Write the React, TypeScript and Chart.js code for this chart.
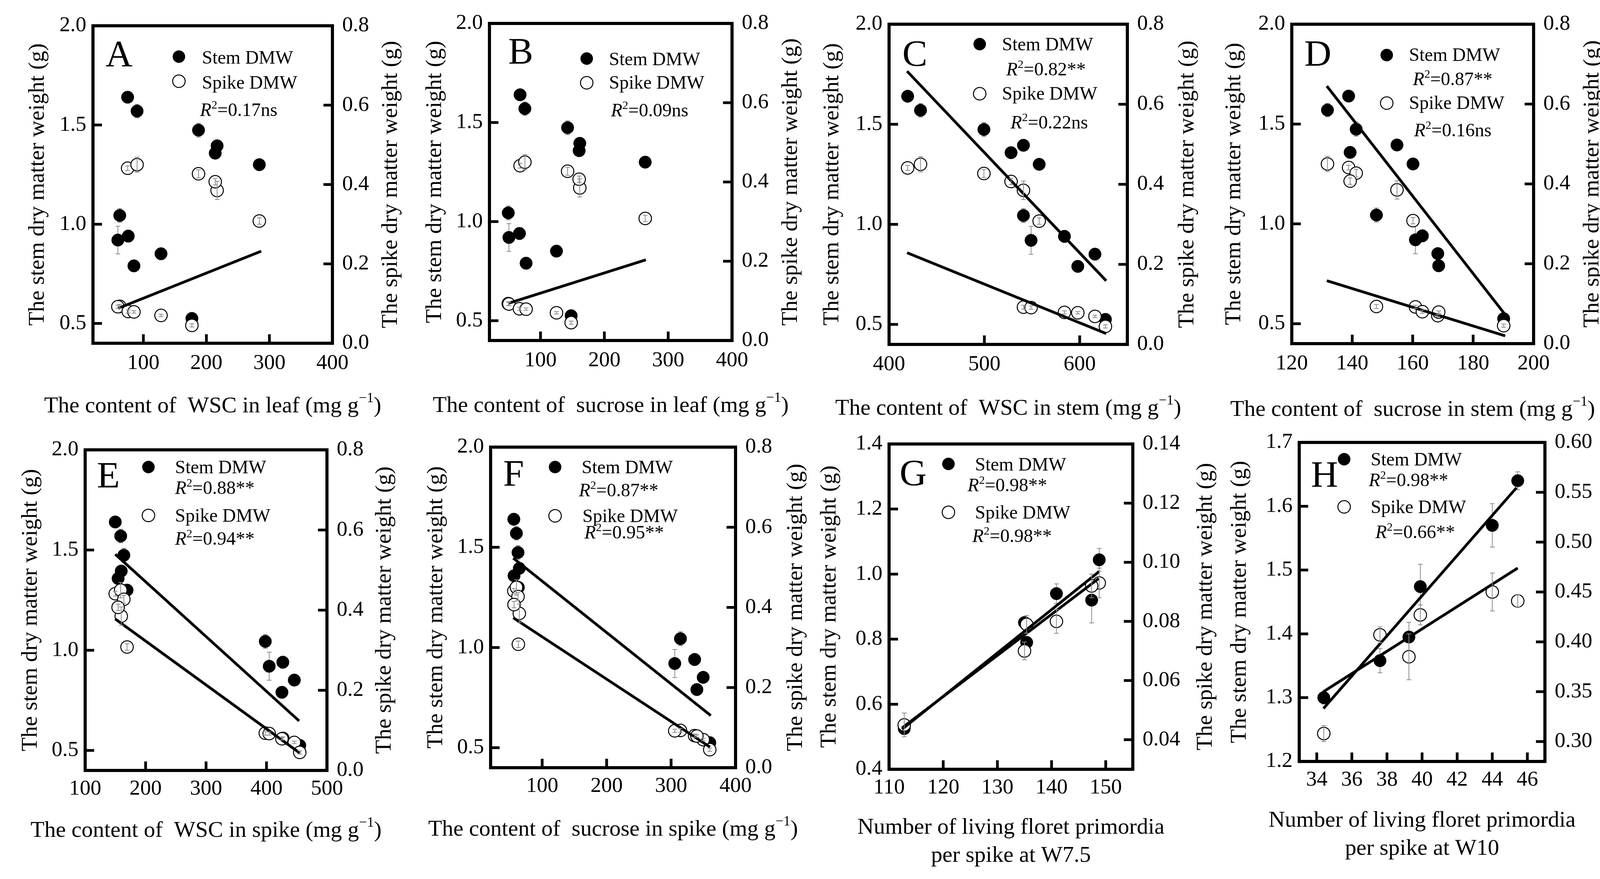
import { useEffect, useRef } from "react"
import { Chart, registerables } from "chart.js"

Chart.register(...registerables)

const SERIF = '"Liberation Serif", "Times New Roman", serif'
Chart.defaults.font.family = SERIF
Chart.defaults.color = "#000"

// twelve treatments: the same plants are plotted in every panel
const stemDmw = [1.64, 1.57, 1.474, 1.395, 1.358, 1.3, 1.044, 0.92, 0.94, 0.851, 0.79, 0.525]
const stemSe = [0.014, 0.034, 0.035, 0.023, 0.019, 0.01, 0.035, 0.07, 0.03, 0.01, 0.01, 0.01]
const spikeDmw = [0.441, 0.45, 0.427, 0.385, 0.407, 0.308, 0.093, 0.092, 0.08, 0.07, 0.079, 0.045]
const spikeSe = [0.006, 0.019, 0.01, 0.023, 0.008, 0.008, 0.005, 0.004, 0.004, 0.003, 0.003, 0.004]

// x value of each treatment, one array per panel (null = not in that panel)
const wscLeaf = [75, 90, 187.5, 217, 214, 284, 62.5, 59.5, 76, 128, 85, 177]
const sucroseLeaf = [68, 75.5, 142.4, 161.5, 160.5, 264, 49.5, 50.5, 67, 125, 77.4, 148]
const wscStem = [419.5, 433, 499.5, 541, 528, 557.5, 541, 549, 584, 616, 598, 627]
const sucroseStem = [138.8, 131.8, 141.3, 154.8, 139.3, 160.1, 148, 160.9, 163.2, 168.3, 168.6, 190.1]
const wscSpike = [149.8, 158.8, 164, 159.7, 154.5, 169.3, 398, 404.5, 427, 446, 425.5, 455]
const sucroseSpike = [56, 60, 62.5, 64.5, 56.3, 63, 314.5, 305.7, 336.5, 349.8, 340, 360]
const floretsW75 = [null, null, null, null, null, null, 148.8, 147.4, 140.9, 135, 135.4, 112.8]
const floretsW10 = [45.45, 44, 39.9, 39.25, 37.6, 34.4, null, null, null, null, null, null]

// fitted regression lines (end points)
const fitAX = [60, 287]
const fitASpike = [0.088, 0.232]
const fitBX = [49.8, 265]
const fitBSpike = [0.094, 0.2035]
const fitCX = [418.9, 627.8]
const fitCStem = [1.765, 0.718]
const fitCSpike = [0.229, 0.027]
const fitDStemX = [131.6, 191.6]
const fitDStem = [1.69, 0.526]
const fitDSpikeX = [131.6, 190.6]
const fitDSpike = [0.1575, 0.0195]
const fitEStemX = [149.8, 454]
const fitEStem = [1.479, 0.647]
const fitESpikeX = [149.8, 455.5]
const fitESpike = [0.378, 0.043]
const fitFStemX = [55.1, 361.6]
const fitFStem = [1.446, 0.66]
const fitFSpikeX = [55.1, 360.4]
const fitFSpike = [0.374, 0.0515]
const fitGStemX = [112.4, 148.8]
const fitGStem = [0.523, 1.008]
const fitGSpikeX = [112.4, 148.7]
const fitGSpike = [0.044, 0.0945]
const fitHStemX = [34.38, 45.38]
const fitHStem = [1.283, 1.629]
const fitHSpikeX = [34.38, 45.45]
const fitHSpike = [0.35, 0.474]

// tick values
const leafTicks = [100, 200, 300, 400]
const stemWscTicks = [400, 500, 600]
const stemSucTicks = [120, 140, 160, 180, 200]
const spikeWscTicks = [100, 200, 300, 400, 500]
const w75Ticks = [110, 120, 130, 140, 150]
const w10Ticks = [34, 36, 38, 40, 42, 44, 46]
const stemYTicks = [0.5, 1.0, 1.5, 2.0]
const spikeYTicks = [0, 0.2, 0.4, 0.6, 0.8]
const stemYTicksG = [0.4, 0.6, 0.8, 1.0, 1.2, 1.4]
const spikeYTicksG = [0.04, 0.06, 0.08, 0.1, 0.12, 0.14]
const stemYTicksH = [1.2, 1.3, 1.4, 1.5, 1.6, 1.7]
const spikeYTicksH = [0.3, 0.35, 0.4, 0.45, 0.5, 0.55, 0.6]

const yTitle = "The stem dry matter weight (g)"
const y2Title = "The spike dry matter weight (g)"

type Row = { kind: "stem" | "spike" | "r2"; text: string; dx: number; dy: number }
type Fit = { xs: number[]; ys: number[]; axis: "y" | "y2" }
interface Panel {
  letter: string
  cell: number[]
  plot: number[]
  xs: (number | null)[]
  xRange: number[]
  xTicks: number[]
  yRange: number[]
  yTicks: number[]
  y2Range: number[]
  y2Ticks: number[]
  y2Dec: number
  xTitle: string[]
  sup: boolean
  fits: Fit[]
  letterPos: number[]
  markers: number[]
  rows: Row[]
  titleOff: number[]
}

const legendRows = (s: number[], r1: number[], p: number[], r2: number[], t1: string, t2: string): Row[] => [
  { kind: "stem", text: "Stem DMW", dx: s[0], dy: s[1] },
  { kind: "r2", text: t1, dx: r1[0], dy: r1[1] },
  { kind: "spike", text: "Spike DMW", dx: p[0], dy: p[1] },
  { kind: "r2", text: t2, dx: r2[0], dy: r2[1] },
]

const panels: Panel[] = [
  {
    letter: "A", cell: [0, 0, 1045, 1100], plot: [238, 66, 851, 879], xs: wscLeaf,
    xRange: [20, 400], xTicks: leafTicks, yRange: [0.4, 2.0], yTicks: stemYTicks,
    y2Range: [0, 0.8], y2Ticks: spikeYTicks, y2Dec: 1,
    xTitle: ["The content of  WSC in leaf (mg g"], sup: true,
    fits: [{ xs: fitAX, ys: fitASpike, axis: "y2" }],
    letterPos: [32, 104], markers: [220, 79, 142],
    rows: [
      { kind: "stem", text: "Stem DMW", dx: 279, dy: 97 },
      { kind: "spike", text: "Spike DMW", dx: 279, dy: 161 },
      { kind: "r2", text: "=0.17ns", dx: 274, dy: 231 },
    ],
    titleOff: [141, 150, 162],
  },
  {
    letter: "B", cell: [1000, 0, 1090, 1100], plot: [1253, 60, 1874, 872], xs: sucroseLeaf,
    xRange: [20, 400], xTicks: leafTicks, yRange: [0.4, 2.0], yTicks: stemYTicks,
    y2Range: [0, 0.8], y2Ticks: spikeYTicks, y2Dec: 1,
    xTitle: ["The content of  sucrose in leaf (mg g"], sup: true,
    fits: [{ xs: fitBX, ys: fitBSpike, axis: "y2" }],
    letterPos: [48, 103], markers: [249, 90, 152],
    rows: [
      { kind: "stem", text: "Stem DMW", dx: 306, dy: 107 },
      { kind: "spike", text: "Spike DMW", dx: 306, dy: 167 },
      { kind: "r2", text: "=0.09ns", dx: 311, dy: 238 },
    ],
    titleOff: [139, 151, 168],
  },
  {
    letter: "C", cell: [2040, 0, 1100, 1100], plot: [2276, 62, 2886, 882], xs: wscStem,
    xRange: [400, 650], xTicks: stemWscTicks, yRange: [0.4, 2.0], yTicks: stemYTicks,
    y2Range: [0, 0.8], y2Ticks: spikeYTicks, y2Dec: 1,
    xTitle: ["The content of  WSC in stem (mg g"], sup: true,
    fits: [{ xs: fitCX, ys: fitCStem, axis: "y" }, { xs: fitCX, ys: fitCSpike, axis: "y2" }],
    letterPos: [34, 107], markers: [232, 51, 178],
    rows: legendRows([289, 67], [300, 131], [289, 193], [311, 267], "=0.82**", "=0.22ns"),
    titleOff: [145, 154, 165],
  },
  {
    letter: "D", cell: [3090, 0, 1100, 1100], plot: [3307, 62, 3926, 880], xs: sucroseStem,
    xRange: [120, 200], xTicks: stemSucTicks, yRange: [0.4, 2.0], yTicks: stemYTicks,
    y2Range: [0, 0.8], y2Ticks: spikeYTicks, y2Dec: 1,
    xTitle: ["The content of  sucrose in stem (mg g"], sup: true,
    fits: [{ xs: fitDStemX, ys: fitDStem, axis: "y" }, { xs: fitDSpikeX, ys: fitDSpike, axis: "y2" }],
    letterPos: [32, 107], markers: [243, 79, 202],
    rows: legendRows([300, 94], [310, 156], [300, 217], [313, 287], "=0.87**", "=0.16ns"),
    titleOff: [147, 151, 170],
  },
  {
    letter: "E", cell: [0, 1075, 1045, 1176], plot: [218, 1152, 837, 1973], xs: wscSpike,
    xRange: [100, 500], xTicks: spikeWscTicks, yRange: [0.4, 2.0], yTicks: stemYTicks,
    y2Range: [0, 0.8], y2Ticks: spikeYTicks, y2Dec: 1,
    xTitle: ["The content of  WSC in spike (mg g"], sup: true,
    fits: [{ xs: fitEStemX, ys: fitEStem, axis: "y" }, { xs: fitESpikeX, ys: fitESpike, axis: "y2" }],
    letterPos: [30, 97], markers: [162, 44, 168],
    rows: legendRows([230, 60], [230, 113], [230, 184], [230, 243], "=0.88**", "=0.94**"),
    titleOff: [139, 148, 155],
  },
  {
    letter: "F", cell: [1000, 1075, 1090, 1176], plot: [1256, 1145, 1883, 1966], xs: sucroseSpike,
    xRange: [20, 400], xTicks: leafTicks, yRange: [0.4, 2.0], yTicks: stemYTicks,
    y2Range: [0, 0.8], y2Ticks: spikeYTicks, y2Dec: 1,
    xTitle: ["The content of  sucrose in spike (mg g"], sup: true,
    fits: [{ xs: fitFStemX, ys: fitFStem, axis: "y" }, { xs: fitFSpikeX, ys: fitFSpike, axis: "y2" }],
    letterPos: [32, 99], markers: [165, 51, 176],
    rows: legendRows([233, 67], [226, 126], [235, 192], [240, 234], "=0.87**", "=0.95**"),
    titleOff: [139, 155, 159],
  },
  {
    letter: "G", cell: [2040, 1075, 1100, 1176], plot: [2276, 1137, 2900, 1970], xs: floretsW75,
    xRange: [110, 155], xTicks: w75Ticks, yRange: [0.4, 1.4], yTicks: stemYTicksG,
    y2Range: [0.03, 0.14], y2Ticks: spikeYTicksG, y2Dec: 2,
    xTitle: ["Number of living floret primordia", "per spike at W7.5"], sup: false,
    fits: [{ xs: fitGStemX, ys: fitGStem, axis: "y" }, { xs: fitGSpikeX, ys: fitGSpike, axis: "y2" }],
    letterPos: [27, 106], markers: [152, 51, 175],
    rows: legendRows([220, 68], [201, 121], [220, 191], [213, 251], "=0.98**", "=0.98**"),
    titleOff: [152, 187, 150],
  },
  {
    letter: "H", cell: [3090, 1075, 1100, 1176], plot: [3326, 1122, 3955, 1950], xs: floretsW10,
    xRange: [33, 47], xTicks: w10Ticks, yRange: [1.2, 1.7], yTicks: stemYTicksH,
    y2Range: [0.28, 0.6], y2Ticks: spikeYTicksH, y2Dec: 2,
    xTitle: ["Number of living floret primordia", "per spike at W10"], sup: false,
    fits: [{ xs: fitHStemX, ys: fitHStem, axis: "y" }, { xs: fitHSpikeX, ys: fitHSpike, axis: "y2" }],
    letterPos: [30, 114], markers: [115, 43, 165],
    rows: legendRows([183, 59], [178, 112], [183, 181], [195, 245], "=0.98**", "=0.66**"),
    titleOff: [152, 182, 152],
  },
]

type Part = { t: string; size: number; italic?: boolean; rise?: number }

function drawParts(ctx: CanvasRenderingContext2D, parts: Part[], x: number, y: number, center: boolean) {
  const font = (pt: Part) => `${pt.italic ? "italic " : ""}${pt.size}px ${SERIF}`
  let total = 0
  for (const pt of parts) {
    ctx.font = font(pt)
    total += ctx.measureText(pt.t).width
  }
  let cx = center ? x - total / 2 : x
  ctx.textAlign = "left"
  for (const pt of parts) {
    ctx.font = font(pt)
    ctx.fillText(pt.t, cx, y - (pt.rise || 0))
    cx += ctx.measureText(pt.t).width
  }
}

function errorBars(chart: any, p: Panel, vals: number[], se: number[], axis: string) {
  const ctx = chart.ctx
  const sx = chart.scales.x
  const sy = chart.scales[axis]
  ctx.save()
  ctx.strokeStyle = "#8c8c8c"
  ctx.lineWidth = 2
  p.xs.forEach((x, i) => {
    if (x == null) return
    const px = sx.getPixelForValue(x)
    const top = sy.getPixelForValue(vals[i] + se[i])
    const bot = sy.getPixelForValue(vals[i] - se[i])
    ctx.beginPath()
    ctx.moveTo(px, top)
    ctx.lineTo(px, bot)
    ctx.moveTo(px - 6, top)
    ctx.lineTo(px + 6, top)
    ctx.moveTo(px - 6, bot)
    ctx.lineTo(px + 6, bot)
    ctx.stroke()
  })
  ctx.restore()
}

function makeDecor(p: Panel) {
  return {
    id: "decor",
    beforeDatasetsDraw(chart: any) {
      errorBars(chart, p, stemDmw, stemSe, "y")
    },
    afterDatasetsDraw(chart: any) {
      errorBars(chart, p, spikeDmw, spikeSe, "y2")
      const ctx = chart.ctx
      const { left, top, right, bottom } = chart.chartArea
      const { x, y, y2 } = chart.scales
      ctx.save()
      ctx.strokeStyle = "#000"
      ctx.lineWidth = 8
      ctx.strokeRect(left, top, right - left, bottom - top)
      // ticks point inward
      ctx.lineWidth = 7
      ctx.beginPath()
      const inside = (v: number, r: number[]) => v > r[0] + 1e-9 && v < r[1] - 1e-9
      p.xTicks.filter((v) => inside(v, p.xRange)).forEach((v) => {
        const px = x.getPixelForValue(v)
        ctx.moveTo(px, bottom)
        ctx.lineTo(px, bottom - 23)
      })
      p.yTicks.filter((v) => inside(v, p.yRange)).forEach((v) => {
        const py = y.getPixelForValue(v)
        ctx.moveTo(left, py)
        ctx.lineTo(left + 23, py)
      })
      p.y2Ticks.filter((v) => inside(v, p.y2Range)).forEach((v) => {
        const py = y2.getPixelForValue(v)
        ctx.moveTo(right, py)
        ctx.lineTo(right - 23, py)
      })
      ctx.stroke()
      ctx.restore()
    },
    afterDraw(chart: any) {
      const ctx = chart.ctx
      const { left, top, right, bottom } = chart.chartArea
      const midY = (top + bottom) / 2
      ctx.save()
      ctx.fillStyle = "#000"
      ctx.textBaseline = "middle"
      ctx.textAlign = "center"
      ctx.font = `58px ${SERIF}`
      // both axis titles read bottom to top
      ctx.save()
      ctx.translate(left - p.titleOff[0], midY)
      ctx.rotate(-Math.PI / 2)
      ctx.fillText(yTitle, 0, 0)
      ctx.restore()
      ctx.save()
      ctx.translate(right + p.titleOff[1], midY)
      ctx.rotate(-Math.PI / 2)
      ctx.fillText(y2Title, 0, 0)
      ctx.restore()
      const midX = (left + right) / 2
      p.xTitle.forEach((line, i) => {
        const parts: Part[] = [{ t: line, size: 58 }]
        if (p.sup) parts.push({ t: "\u22121", size: 36, rise: 20 }, { t: ")", size: 58 })
        drawParts(ctx, parts, midX, bottom + p.titleOff[2] + i * 72, true)
      })
      // panel letter
      ctx.textBaseline = "alphabetic"
      ctx.textAlign = "left"
      ctx.font = `96px ${SERIF}`
      ctx.fillText(p.letter, left + p.letterPos[0], top + p.letterPos[1])
      // legend markers
      const mx = left + p.markers[0]
      ctx.beginPath()
      ctx.arc(mx, top + p.markers[1], 16, 0, Math.PI * 2)
      ctx.fill()
      ctx.beginPath()
      ctx.arc(mx, top + p.markers[2], 16, 0, Math.PI * 2)
      ctx.fillStyle = "#fff"
      ctx.fill()
      ctx.lineWidth = 2.5
      ctx.strokeStyle = "#000"
      ctx.stroke()
      ctx.fillStyle = "#000"
      p.rows.forEach((r) => {
        const parts: Part[] =
          r.kind === "r2"
            ? [{ t: "R", size: 48, italic: true }, { t: "2", size: 30, rise: 19 }, { t: r.text, size: 48 }]
            : [{ t: r.text, size: 48 }]
        drawParts(ctx, parts, left + r.dx, top + r.dy, false)
      })
      ctx.restore()
    },
  }
}

function PanelChart({ p }: { p: Panel }) {
  const chartRef = useRef<HTMLCanvasElement>(null)

  useEffect(() => {
    if (!chartRef.current) return
    const [cx, cy, cw, ch] = p.cell
    const [pl, pt, pr, pb] = p.plot
    const pts = (vals: number[]) =>
      p.xs.flatMap((x, i) => (x == null ? [] : [{ x, y: vals[i] }]))
    const tickFont = { family: SERIF, size: 55 }
    const mkTicks = (vals: number[]) => (axis: any) => {
      axis.ticks = vals.map((value) => ({ value }))
    }
    const datasets: any[] = [
      {
        label: "Stem DMW",
        data: pts(stemDmw),
        yAxisID: "y",
        backgroundColor: "#000",
        borderColor: "#000",
        borderWidth: 1,
        pointRadius: 16,
        order: 2,
      },
      {
        label: "Spike DMW",
        data: pts(spikeDmw),
        yAxisID: "y2",
        backgroundColor: "#fff",
        borderColor: "#000",
        borderWidth: 2.5,
        pointRadius: 16,
        order: 1,
      },
      ...p.fits.map((f) => ({
        label: "fit",
        data: f.xs.map((x, i) => ({ x, y: f.ys[i] })),
        yAxisID: f.axis,
        showLine: true,
        borderColor: "#000",
        borderWidth: 7,
        pointRadius: 0,
        order: 0,
      })),
    ]

    const chart = new Chart(chartRef.current, {
      type: "scatter",
      data: { datasets },
      options: {
        animation: false,
        responsive: true,
        maintainAspectRatio: false,
        devicePixelRatio: 1,
        events: [],
        layout: { padding: { top: pt - cy, left: 0, right: 0, bottom: 0 } },
        plugins: { legend: { display: false }, tooltip: { enabled: false } },
        scales: {
          x: {
            type: "linear",
            position: "bottom",
            min: p.xRange[0],
            max: p.xRange[1],
            afterBuildTicks: mkTicks(p.xTicks),
            afterFit: (s: any) => {
              s.height = cy + ch - pb
            },
            grid: { display: false, drawTicks: false },
            border: { display: false },
            ticks: {
              font: tickFont,
              color: "#000",
              padding: cy === 0 ? 19 : 15,
              autoSkip: false,
              maxRotation: 0,
              callback: (v: any) => Number(v).toFixed(0),
            },
          },
          y: {
            type: "linear",
            position: "left",
            min: p.yRange[0],
            max: p.yRange[1],
            afterBuildTicks: mkTicks(p.yTicks),
            afterFit: (s: any) => {
              s.width = pl - cx
            },
            grid: { display: false, drawTicks: false },
            border: { display: false },
            ticks: {
              font: tickFont,
              color: "#000",
              padding: 17,
              autoSkip: false,
              callback: (v: any) => Number(v).toFixed(1),
            },
          },
          y2: {
            type: "linear",
            position: "right",
            min: p.y2Range[0],
            max: p.y2Range[1],
            afterBuildTicks: mkTicks(p.y2Ticks),
            afterFit: (s: any) => {
              s.width = cx + cw - pr
            },
            grid: { display: false, drawTicks: false },
            border: { display: false },
            ticks: {
              font: tickFont,
              color: "#000",
              padding: 25,
              autoSkip: false,
              callback: (v: any) => Number(v).toFixed(p.y2Dec),
            },
          },
        },
      } as any,
      plugins: [makeDecor(p)],
    })

    return () => {
      chart.destroy()
    }
  }, [p])

  const [cx, cy, cw, ch] = p.cell
  return (
    <div style={{ position: "absolute", left: cx, top: cy, width: cw, height: ch }}>
      <canvas ref={chartRef} style={{ display: "block" }} />
    </div>
  )
}

export default function App() {
  return (
    <div
      style={{
        position: "absolute",
        left: 0,
        top: 0,
        width: 4190,
        height: 2251,
        overflow: "hidden",
        background: "#fff",
      }}
    >
      {panels.map((p) => (
        <PanelChart key={p.letter} p={p} />
      ))}
    </div>
  )
}
